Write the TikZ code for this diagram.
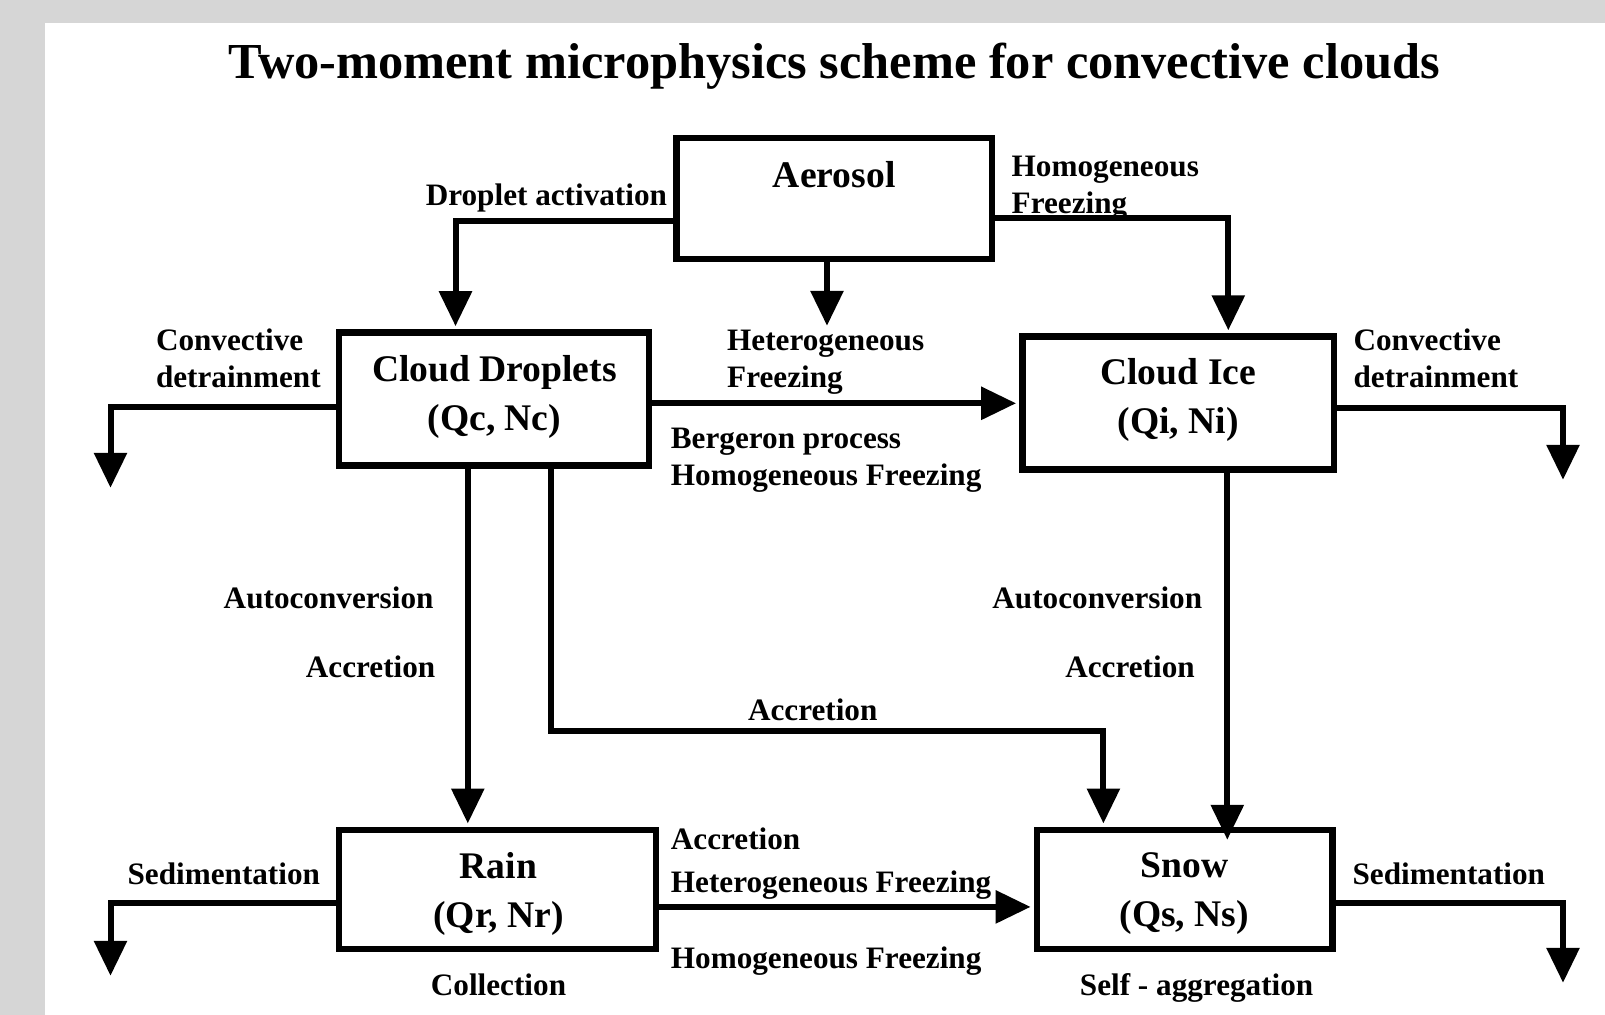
\documentclass[tikz,border=0pt]{standalone}
\usepackage{fontspec}
\setmainfont{Liberation Serif}
\usetikzlibrary{arrows.meta,calc}
\definecolor{bggray}{RGB}{214,214,214}
\begin{document}
\begin{tikzpicture}[x=0.5pt,y=-0.5pt,
  box/.style={draw=black,line width=3.3pt,inner sep=0pt,fill=white},
  boxtxt/.style={font=\bfseries\fontsize{18.8}{24.5}\selectfont,align=center,inner sep=0pt},
  lbl/.style={font=\bfseries\fontsize{15.6}{18.7}\selectfont,inner sep=0pt},
  lbll/.style={lbl,align=left},
  flow/.style={line width=3pt,shorten >=1.6pt,-{Triangle[length=17.5pt,width=16pt]}},
  ]
\useasboundingbox (0,0) rectangle (1605,1015);
\fill[bggray] (0,0) rectangle (1605,1015);
\fill[white] (45,23) rectangle (1605,1015);
\node[font=\bfseries\fontsize{25.2}{30}\selectfont,inner sep=0pt] (title) at (834,66) {Two-moment microphysics scheme for convective clouds};

% boxes
\node[box,minimum width=157.7pt,minimum height=60.5pt] (aer) at (834.2,198.5) {};
\node[box,minimum width=155.1pt,minimum height=66.5pt] (cd) at (493.9,399.2) {};
\node[box,minimum width=155.6pt,minimum height=66.5pt] (ci) at (1178.2,403.3) {};
\node[box,minimum width=158.6pt,minimum height=59.5pt] (rain) at (497.5,889.5) {};
\node[box,minimum width=147.8pt,minimum height=59.5pt] (snow) at (1184.9,889.5) {};

\node[boxtxt] (aert) at (834.2,175) {Aerosol};
\node[boxtxt] (cdt) at (494.4,396.5) {Cloud Droplets\\(Qc, Nc)};
\node[boxtxt] (cit) at (1178.2,400) {Cloud Ice\\(Qi, Ni)};
\node[boxtxt] (raint) at (498.5,893.5) {Rain\\(Qr, Nr)};
\node[boxtxt] (snowt) at (1184.3,893.5) {Snow\\(Qs, Ns)};

% bend points and free ends
\coordinate (da) at (455.5,221.1);
\coordinate (hf) at (1228.3,218);
\coordinate (het) at (827,329);
\coordinate (ldb) at (110.5,407.4);
\coordinate (lde) at (110.5,491);
\coordinate (rdb) at (1563,408.4);
\coordinate (rde) at (1563,483);
\coordinate (cr) at (467.8,0);
\coordinate (cs1) at (550.7,730.9);
\coordinate (cs2) at (1103.4,730.9);
\coordinate (isx) at (1227.3,843);
\coordinate (rs) at (0,906.9);
\coordinate (lsb) at (110.5,902.8);
\coordinate (lse) at (110.5,979);
\coordinate (rsb) at (1563,902.8);
\coordinate (rse) at (1563,986);

% connectors
\draw[flow] (aer.west |- da) -- (da) -- (da |- cd.north);
\draw[flow] (aer.east |- hf) -- (hf) -- (hf |- ci.north);
\draw[flow] (aer.south -| het) -- (het);
\draw[flow] (cd.east |- ci.west) -- (ci.west);
\draw[flow] (cd.west |- ldb) -- (ldb) -- (lde);
\draw[flow] (ci.east |- rdb) -- (rdb) -- (rde);
\draw[flow] (cr |- cd.south) -- (cr |- rain.north);
\draw[flow] (cs1 |- cd.south) -- (cs1) -- (cs2) -- (cs2 |- snow.north);
\draw[flow] (isx |- ci.south) -- (isx);
\draw[flow] (rain.east |- rs) -- (snow.west |- rs);
\draw[flow] (rain.west |- lsb) -- (lsb) -- (lse);
\draw[flow] (snow.east |- rsb) -- (rsb) -- (rse);

% labels
\node[lbl,anchor=mid east] (l1) at (667.4,201) {Droplet activation};
\node[lbll,anchor=west] (l2) at (1011.3,188.5) {Homogeneous\\Freezing};
\node[lbll,anchor=west] (l3) at (726.8,362) {Heterogeneous\\Freezing};
\node[lbll,anchor=west] (l4) at (155.6,358.3) {Convective\\detrainment};
\node[lbll,anchor=west] (l5) at (1353.2,358.3) {Convective\\detrainment};
\node[lbll,anchor=west] (l6) at (670.5,460.5) {Bergeron process\\Homogeneous Freezing};
\node[lbl,anchor=mid] (l7) at (328.6,604.3) {Autoconversion};
\node[lbl,anchor=mid] (l8) at (370.6,673) {Accretion};
\node[lbl,anchor=mid] (l9) at (1097.3,604.3) {Autoconversion};
\node[lbl,anchor=mid] (l10) at (1130,673) {Accretion};
\node[lbl,anchor=mid] (l11) at (812.7,716) {Accretion};
\node[lbl,anchor=mid west] (l12) at (670.5,845) {Accretion};
\node[lbl,anchor=mid west] (l13) at (670.5,887.8) {Heterogeneous Freezing};
\node[lbl,anchor=mid west] (l14) at (670.5,963.6) {Homogeneous Freezing};
\node[lbl,anchor=mid east] (l15) at (320.4,879.7) {Sedimentation};
\node[lbl,anchor=mid west] (l16) at (1352.2,879.7) {Sedimentation};
\node[lbl,anchor=mid] (l17) at (498.5,991.2) {Collection};
\node[lbl,anchor=mid] (l18) at (1196.6,991.2) {Self - aggregation};
\end{tikzpicture}
\end{document}
